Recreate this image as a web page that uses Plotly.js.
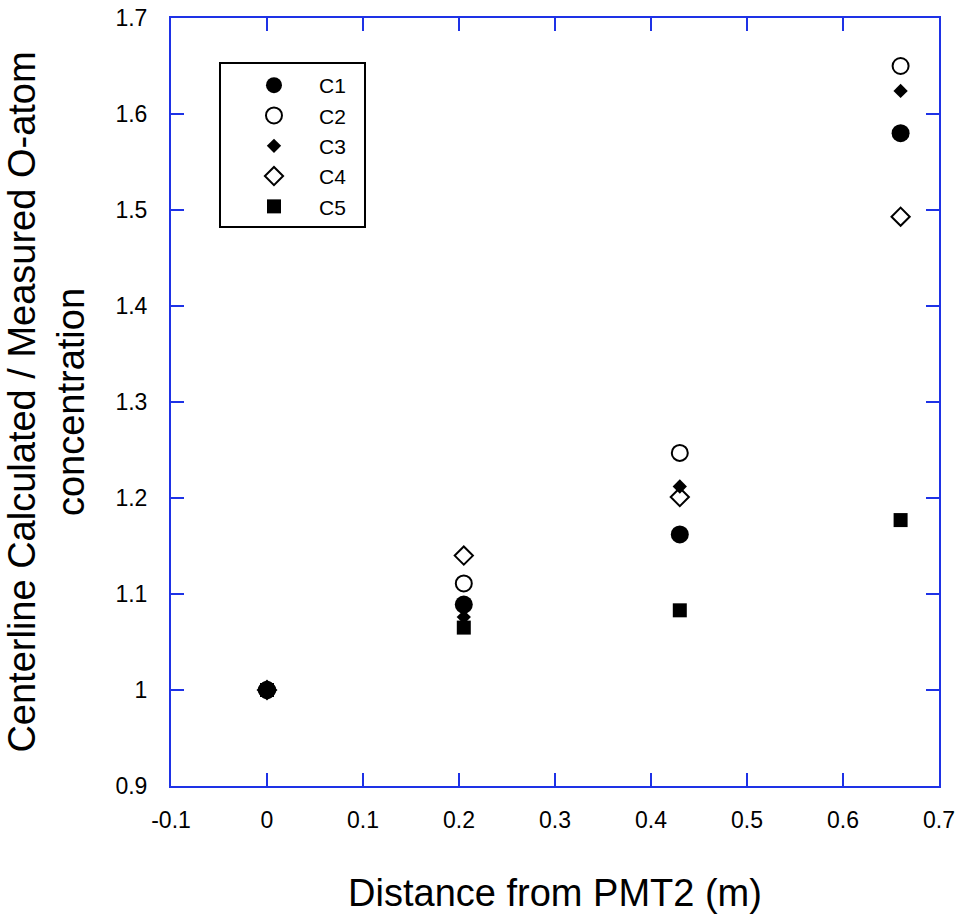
<!DOCTYPE html>
<html>
<head>
<meta charset="utf-8">
<script src="https://cdn.plot.ly/plotly-3.0.1.min.js"></script>
<style>html,body{margin:0;padding:0;background:#fff;}#chart{width:959px;height:921px;}</style>
</head>
<body>
<div id="chart"></div>
<script>
const distance = [0, 0.205, 0.43, 0.66];
const c1 = [1.0, 1.089, 1.162, 1.580];
const c2 = [1.0, 1.111, 1.247, 1.650];
const c3 = [1.0, 1.076, 1.212, 1.624];
const c4 = [1.0, 1.140, 1.201, 1.493];
const c5 = [1.0, 1.065, 1.083, 1.177];
const seriesNames = ['C1', 'C2', 'C3', 'C4', 'C5'];
const xTicks = [-0.1, 0, 0.1, 0.2, 0.3, 0.4, 0.5, 0.6, 0.7];
const xTickText = ['-0.1', '0', '0.1', '0.2', '0.3', '0.4', '0.5', '0.6', '0.7'];
const yTicks = [0.9, 1.0, 1.1, 1.2, 1.3, 1.4, 1.5, 1.6, 1.7];
const yTickText = ['0.9', '1', '1.1', '1.2', '1.3', '1.4', '1.5', '1.6', '1.7'];

const blue = 'rgb(30,50,230)';
const styles = [
  {symbol: 'circle', size: 18, color: '#000', line: {color: '#000', width: 0}},
  {symbol: 'circle-open', size: 16, color: '#000', line: {color: '#000', width: 2}},
  {symbol: 'diamond', size: 11, color: '#000', line: {color: '#000', width: 0}},
  {symbol: 'diamond-open', size: 14, color: '#000', line: {color: '#000', width: 2}},
  {symbol: 'square', size: 14, color: '#000', line: {color: '#000', width: 0}}
];
const series = [c1, c2, c3, c4, c5];
const traces = [0,1,2,3,4].map(i => ({
  x: distance, y: series[i], name: seriesNames[i], type: 'scatter', mode: 'markers',
  marker: styles[i], showlegend: true
}));

const layout = {
  width: 959, height: 921,
  margin: {l: 171, r: 20, t: 18, b: 135},
  paper_bgcolor: '#fff', plot_bgcolor: '#fff',
  font: {family: 'Liberation Sans, Arial, sans-serif', color: '#000'},
  xaxis: {
    range: [-0.1, 0.7], tickmode: 'array', tickvals: xTicks, ticktext: xTickText,
    ticks: 'inside', ticklen: 13, tickwidth: 2, tickcolor: blue,
    showline: true, linecolor: blue, linewidth: 2, mirror: 'ticks',
    showgrid: false, zeroline: false, ticklabelstandoff: 12,
    tickfont: {size: 23, color: '#000'},
    title: {text: 'Distance from PMT2 (m)', font: {size: 38, color: '#000'}, standoff: 48}
  },
  yaxis: {
    range: [0.9, 1.7], tickmode: 'array', tickvals: yTicks, ticktext: yTickText,
    ticks: 'inside', ticklen: 13, tickwidth: 2, tickcolor: blue,
    showline: true, linecolor: blue, linewidth: 2, mirror: 'ticks',
    showgrid: false, zeroline: false, ticklabelstandoff: 17,
    tickfont: {size: 23, color: '#000'},
    title: {text: 'Centerline Calculated / Measured O-atom<br>concentration', font: {size: 38, color: '#000'}, standoff: 19}
  },
  legend: {
    x: 0.0755, y: 0.8333, xanchor: 'left', yanchor: 'middle',
    borderwidth: 0, bgcolor: 'rgba(0,0,0,0)',
    font: {size: 21, color: '#000'}, itemwidth: 80, tracegroupgap: 0
  },
  shapes: [{
    type: 'rect', xref: 'paper', yref: 'paper', layer: 'below',
    x0: 0.0638, x1: 0.2526, y0: 0.7279, y1: 0.9414,
    line: {color: '#000', width: 2}, fillcolor: 'rgba(0,0,0,0)'
  }]
};
Plotly.newPlot('chart', traces, layout, {displayModeBar: false, staticPlot: true});
</script>
</body>
</html>
